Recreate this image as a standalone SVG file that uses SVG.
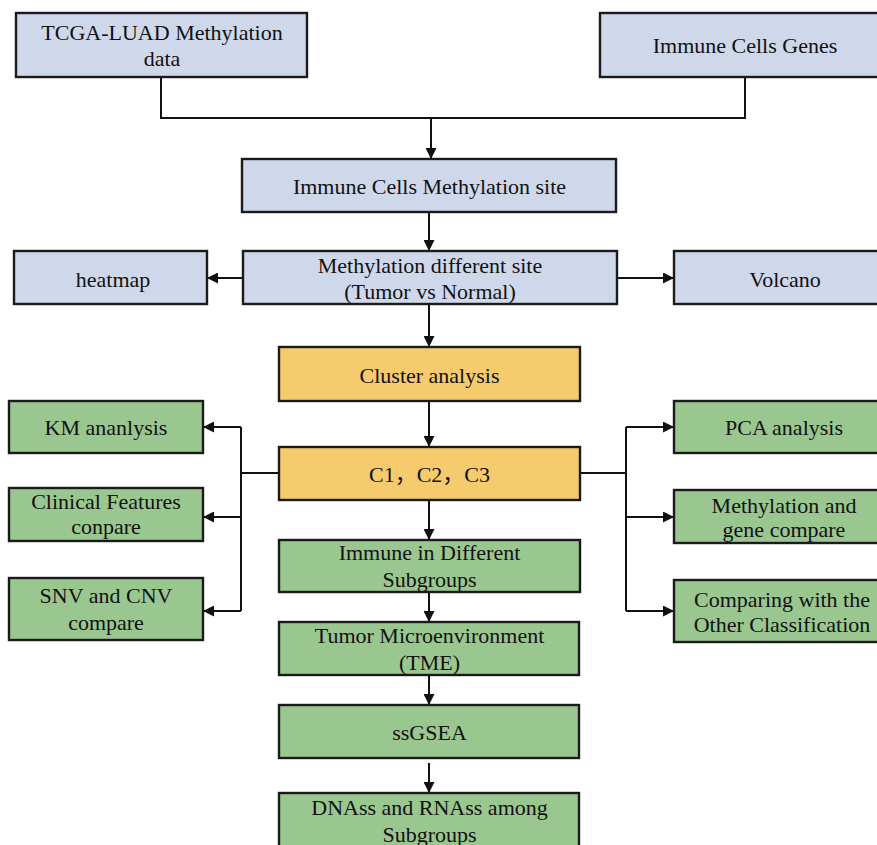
<svg xmlns="http://www.w3.org/2000/svg" width="877" height="845" viewBox="0 0 877 845">
<defs>
<marker id="ah" viewBox="0 0 10 10" refX="10" refY="5" markerWidth="6" markerHeight="5.5" orient="auto" markerUnits="strokeWidth">
<path d="M0,0 L10,5 L0,10 Z" fill="#111"/>
</marker>
<style>
.box{stroke:#1a1a1a;stroke-width:2.4}
.blue{fill:#CFD8EB}
.orange{fill:#F5CB6E}
.green{fill:#9AC78F}
text{font-family:"Liberation Serif","Times New Roman","Noto Sans CJK SC",serif;font-size:22px;fill:#111;text-anchor:middle}
.ln{fill:none;stroke:#111;stroke-width:2}
.ar{fill:none;stroke:#111;stroke-width:2;marker-end:url(#ah)}
</style>
</defs>
<rect width="877" height="845" fill="#fff"/>

<g id="connectors">
<polyline class="ln" points="161,77 161,118 745,118 745,77"/>
<line class="ar" x1="431" y1="118" x2="431" y2="159"/>
<line class="ar" x1="429" y1="212" x2="429" y2="251"/>
<line class="ar" x1="243" y1="278" x2="207" y2="278"/>
<line class="ar" x1="617" y1="278" x2="674" y2="278"/>
<line class="ar" x1="429" y1="304" x2="429" y2="347"/>
<line class="ar" x1="429" y1="401" x2="429" y2="447"/>
<line class="ln" x1="279" y1="473" x2="241" y2="473"/>
<polyline class="ln" points="241,427 241,611"/>
<line class="ar" x1="241" y1="427" x2="203" y2="427"/>
<line class="ar" x1="241" y1="517" x2="203" y2="517"/>
<line class="ar" x1="241" y1="611" x2="203" y2="611"/>
<line class="ln" x1="580" y1="473" x2="626" y2="473"/>
<polyline class="ln" points="626,427 626,611"/>
<line class="ar" x1="626" y1="427" x2="674" y2="427"/>
<line class="ar" x1="626" y1="517" x2="674" y2="517"/>
<line class="ar" x1="626" y1="611" x2="674" y2="611"/>
<line class="ar" x1="429" y1="500" x2="429" y2="540"/>
<line class="ar" x1="429" y1="592" x2="429" y2="622"/>
<line class="ar" x1="429" y1="675" x2="429" y2="705"/>
<line class="ar" x1="429" y1="763" x2="429" y2="793"/>
</g>

<g id="n-tcga">
<rect class="box blue" x="16" y="13" width="291" height="64"/>
<text x="162" y="40">TCGA-LUAD Methylation</text>
<text x="162" y="66">data</text>
</g>
<g id="n-genes">
<rect class="box blue" x="600" y="13" width="295" height="64"/>
<text x="745" y="53">Immune Cells Genes</text>
</g>
<g id="n-site">
<rect class="box blue" x="242" y="159" width="374" height="53"/>
<text x="429.5" y="194">Immune Cells Methylation site</text>
</g>
<g id="n-diff">
<rect class="box blue" x="243" y="251" width="374" height="53"/>
<text x="430" y="273">Methylation different site</text>
<text x="430" y="299">(Tumor vs Normal)</text>
</g>
<g id="n-heatmap">
<rect class="box blue" x="14" y="251" width="193" height="53"/>
<text x="113" y="287">heatmap</text>
</g>
<g id="n-volcano">
<rect class="box blue" x="674" y="251" width="222" height="53"/>
<text x="785" y="287">Volcano</text>
</g>
<g id="n-cluster">
<rect class="box orange" x="279" y="347" width="301" height="54"/>
<text x="429.5" y="383">Cluster analysis</text>
</g>
<g id="n-c123">
<rect class="box orange" x="279" y="447" width="301" height="53"/>
<text x="429.5" y="482">C1，C2，C3</text>
</g>
<g id="n-km">
<rect class="box green" x="9" y="401" width="194" height="52"/>
<text x="106" y="435">KM ananlysis</text>
</g>
<g id="n-clinical">
<rect class="box green" x="9" y="488" width="194" height="53"/>
<text x="106" y="509">Clinical Features</text>
<text x="106" y="534">conpare</text>
</g>
<g id="n-snv">
<rect class="box green" x="9" y="578" width="194" height="62"/>
<text x="106" y="603">SNV and CNV</text>
<text x="106" y="630">compare</text>
</g>
<g id="n-pca">
<rect class="box green" x="674" y="401" width="222" height="52"/>
<text x="784" y="435">PCA analysis</text>
</g>
<g id="n-methgene">
<rect class="box green" x="674" y="490" width="222" height="53"/>
<text x="784" y="513">Methylation and</text>
<text x="784" y="537">gene compare</text>
</g>
<g id="n-other">
<rect class="box green" x="674" y="580" width="222" height="62"/>
<text x="782" y="607">Comparing with the</text>
<text x="782" y="632">Other Classification</text>
</g>
<g id="n-immune">
<rect class="box green" x="279" y="540" width="301" height="52"/>
<text x="429.5" y="560">Immune in Different</text>
<text x="429.5" y="587">Subgroups</text>
</g>
<g id="n-tme">
<rect class="box green" x="279" y="622" width="300" height="53"/>
<text x="429.5" y="643">Tumor Microenvironment</text>
<text x="429.5" y="670">(TME)</text>
</g>
<g id="n-ssgsea">
<rect class="box green" x="279" y="705" width="300" height="53"/>
<text x="429.5" y="740">ssGSEA</text>
</g>
<g id="n-dnass">
<rect class="box green" x="279" y="793" width="300" height="60"/>
<text x="429.5" y="815">DNAss and RNAss among</text>
<text x="429.5" y="842">Subgroups</text>
</g>
</svg>
